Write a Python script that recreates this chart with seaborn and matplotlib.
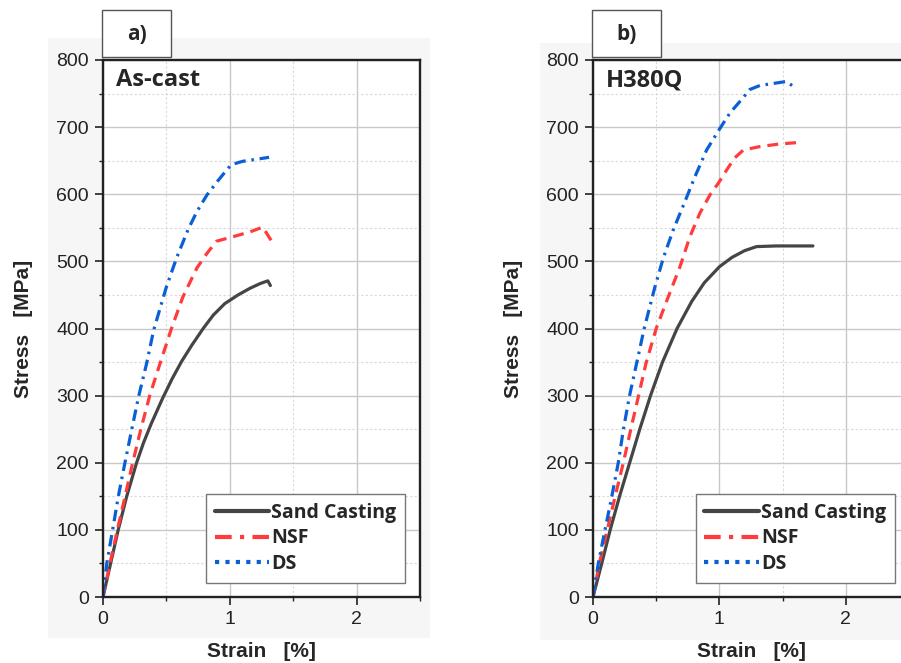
import numpy as np
import pandas as pd
import seaborn as sns
import matplotlib.pyplot as plt
from matplotlib.lines import Line2D
from matplotlib.patches import Rectangle

# dati (strain %, stress MPa)
# pannello a) As-cast
sc_a_x = [0, 0.06, 0.12, 0.187, 0.265, 0.32, 0.38, 0.47, 0.545, 0.62, 0.70, 0.79, 0.87,
          0.96, 1.065, 1.16, 1.24, 1.30, 1.32]
sc_a_y = [0, 50, 100, 150, 200, 230, 258, 296, 325, 351, 375, 400, 420,
          437, 450, 460, 467, 471, 464]
nsf_a_x = [0, 0.055, 0.113, 0.173, 0.234, 0.297, 0.37, 0.45, 0.54, 0.63, 0.74, 0.82, 0.895,
           1.03, 1.16, 1.26, 1.34]
nsf_a_y = [0, 50, 100, 149, 200, 249, 301, 348, 400, 447, 490, 512, 530,
           537, 544, 551, 527]
ds_a_x = [0, 0.03, 0.076, 0.12, 0.173, 0.226, 0.28, 0.344, 0.40, 0.50, 0.58, 0.67, 0.74,
          0.82, 0.91, 1.01, 1.10, 1.31]
ds_a_y = [0, 50, 100, 149, 200, 249, 298, 348, 398, 462, 505, 547, 574,
          599, 621, 644, 649, 655]

# pannello b) H380Q
sc_b_x = [0, 0.069, 0.136, 0.21, 0.29, 0.37, 0.455, 0.55, 0.665, 0.78, 0.88, 1.0,
          1.10, 1.2, 1.294, 1.45, 1.74]
sc_b_y = [0, 50, 100, 150, 200, 250, 300, 350, 400, 440, 468, 492,
          506, 516, 522, 523, 523]
nsf_b_x = [0, 0.05, 0.113, 0.174, 0.24, 0.298, 0.358, 0.419, 0.50, 0.595, 0.688, 0.767,
           0.846, 0.925, 0.99, 1.057, 1.12, 1.19, 1.32, 1.48, 1.62]
nsf_b_y = [0, 50, 100, 149, 200, 249, 298, 348, 400, 447, 492, 537,
           572, 599, 616, 636, 654, 666, 671, 675, 677]
ds_b_x = [0, 0.042, 0.095, 0.148, 0.20, 0.24, 0.287, 0.345, 0.405, 0.49, 0.556, 0.635,
          0.727, 0.806, 0.899, 1.004, 1.083, 1.175, 1.24, 1.32, 1.53, 1.59]
ds_b_y = [0, 50, 100, 149, 200, 249, 298, 348, 400, 462, 505, 547,
          589, 626, 666, 698, 721, 741, 756, 762, 768, 760]

series_names = ['Sand Casting', 'NSF', 'DS']
panel_labels = ['a)', 'b)']
panel_titles = ['As-cast', 'H380Q']

sns.set_theme(style='ticks')
plt.rcParams['font.family'] = ['Liberation Sans', 'DejaVu Sans']
calibri_like = ['Open Sans', 'DejaVu Sans']

col_sc = '#454545'
col_nsf = '#ff3b3b'
col_ds = '#0a5fd6'

fig = plt.figure(figsize=(9.01, 6.63), dpi=100)
fig.patch.set_facecolor('white')

# sfondi grigi dietro i pannelli
fig.patches.append(Rectangle((48/901, 1-638/663), 382/901, 600/663, transform=fig.transFigure,
                             facecolor='#f6f6f6', edgecolor='none', zorder=-5))
fig.patches.append(Rectangle((540/901, 1-640/663), 361/901, 597/663, transform=fig.transFigure,
                             facecolor='#f6f6f6', edgecolor='none', zorder=-5))

ax_a = fig.add_axes([103/901, 1-597/663, 317/901, 537/663])
ax_b = fig.add_axes([593/901, 1-597/663, 316/901, 537/663])

data = [
    [(sc_a_x, sc_a_y), (nsf_a_x, nsf_a_y), (ds_a_x, ds_a_y)],
    [(sc_b_x, sc_b_y), (nsf_b_x, nsf_b_y), (ds_b_x, ds_b_y)],
]

box_x = [102, 592]

for i, ax in enumerate([ax_a, ax_b]):
    ax.set_facecolor('white')
    (sx, sy), (nx, ny), (dx, dy) = data[i]
    sns.lineplot(x=sx, y=sy, ax=ax, color=col_sc, lw=2.3, sort=False, estimator=None)
    sns.lineplot(x=nx, y=ny, ax=ax, color=col_nsf, lw=2.3, sort=False, estimator=None,
                 dashes=False).lines[-1].set_dashes([3.4, 2.2])
    sns.lineplot(x=dx, y=dy, ax=ax, color=col_ds, lw=2.3, sort=False, estimator=None,
                 dashes=False).lines[-1].set_dashes([3.6, 1.8, 0.8, 1.8])

    ax.set_xlim(0, 2.5)
    ax.set_ylim(0, 800)
    ax.set_xticks([0, 1, 2])
    ax.set_xticks([0.5, 1.5, 2.5], minor=True)
    ax.set_yticks(range(0, 801, 100))
    ax.set_yticks(range(50, 800, 100), minor=True)
    ax.grid(which='major', color='#c8c8c8', lw=1.0)
    ax.grid(which='minor', color='#d8d8d8', lw=0.8, ls=(0, (2, 2)))
    ax.set_axisbelow(True)
    for s in ax.spines.values():
        s.set_visible(True)
        s.set_color('#222222')
        s.set_linewidth(1.7)
    ax.tick_params(which='major', direction='out', length=6, width=1.2, color='#222222',
                   labelsize=14, labelcolor='#222222', pad=4)
    ax.tick_params(which='minor', direction='out', length=3, width=1.0, color='#222222')

    ax.set_xlabel('Strain   [%]', fontsize=15, fontweight='bold', labelpad=10)
    ax.set_ylabel('Stress   [MPa]', fontsize=15, fontweight='bold', labelpad=17)

    ax.text(0.04, 0.985, panel_titles[i], transform=ax.transAxes, ha='left', va='top',
            fontsize=17, fontweight='bold', family=calibri_like)

    handles = [
        Line2D([], [], color=col_sc, lw=3),
        Line2D([], [], color=col_nsf, lw=3, dashes=[4, 2, 1, 2]),
        Line2D([], [], color=col_ds, lw=3, dashes=[1, 1.5]),
    ]
    leg = ax.legend(handles, series_names, loc='lower left', bbox_to_anchor=(0.325, 0.026),
                    borderaxespad=0, fancybox=False, framealpha=1, edgecolor='#777777',
                    handlelength=2.8, handletextpad=0.1, labelspacing=0.3, borderpad=0.45,
                    prop={'family': calibri_like, 'weight': 'bold', 'size': 14})
    leg.get_frame().set_linewidth(1.0)

    # riquadro con la lettera del pannello
    bx = box_x[i]
    fig.patches.append(Rectangle((bx/901, 1-57/663), 69/901, 47/663, transform=fig.transFigure,
                                 facecolor='white', edgecolor='#555555', lw=1.0, zorder=1))
    fig.text((bx+34.5)/901, 1-34/663, panel_labels[i], ha='center', va='center',
             fontsize=15, fontweight='bold', family=calibri_like)

fig.savefig('out.png', dpi=100)
